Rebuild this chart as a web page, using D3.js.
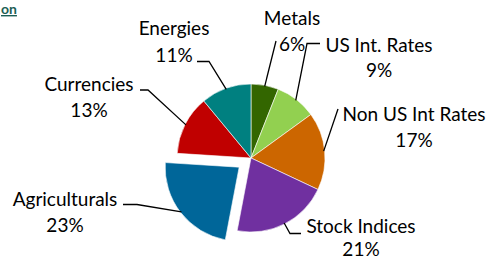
<!DOCTYPE html>
<html><head><meta charset="utf-8">
<script src="https://cdn.jsdelivr.net/npm/d3@7"></script>
<style>
html,body{margin:0;padding:0;background:#fff;}
svg{display:block;}
</style></head>
<body>
<script>
// ---- data ----
const categories = ["Metals","US Int. Rates","Non US Int Rates","Stock Indices","Agriculturals","Currencies","Energies"];
const values = [6, 9, 17, 21, 23, 13, 11];
const percentLabels = ["6%","9%","17%","21%","23%","13%","11%"];
const colors = ["#336600","#92D050","#CC6600","#7030A0","#006699","#C00000","#008080"];
const explodedIndex = 4;

// ---- layout ----
const W = 487, H = 261;
const cx = 251, cy = 158, R = 74, explode = 15;
const labelX = [292, 379, 414, 361, 65, 89, 174];
const labelY = [25, 51.5, 121, 233, 206, 91, 35];
const lineGap = [25.8, 25.8, 25.8, 23, 25.8, 25.8, 26.5];
const leaderStart = [[276,41],[320,43.5],[338,109],[301,233.5],[123,204.5],[140,90],[197,61.5]];
const leaderElbow = [[276,41],[307,43.5],[338,109],[290,233.5],[137,204.5],[148,90],[209,61.5]];

const svg = d3.select("body").append("svg").attr("width", W).attr("height", H);

// title fragment
svg.append("text").attr("x", 1).attr("y", 14)
  .attr("font-family", "Lato, 'Open Sans', sans-serif").attr("font-weight", "bold")
  .attr("font-size", 14).attr("fill", "#1B5E55").attr("text-decoration", "underline")
  .text("on");

const pie = d3.pie().sort(null).value(d => d);
const arcs = pie(values);
const arc = d3.arc().innerRadius(0).outerRadius(R);

const g = svg.append("g").attr("transform", `translate(${cx},${cy})`);

function offsetOf(i) {
  if (i !== explodedIndex) return [0, 0];
  const a = (arcs[i].startAngle + arcs[i].endAngle) / 2;
  return [explode * Math.sin(a), -explode * Math.cos(a)];
}

g.selectAll("path.slice").data(arcs).enter().append("path")
  .attr("class", "slice")
  .attr("d", arc)
  .attr("fill", (d, i) => colors[i])
  .attr("stroke", "#fff").attr("stroke-width", 0.6)
  .attr("transform", (d, i) => { const o = offsetOf(i); return `translate(${o[0]},${o[1]})`; });

// leader lines
const line = d3.line();
arcs.forEach((d, i) => {
  const a = (d.startAngle + d.endAngle) / 2;
  const o = offsetOf(i);
  const p = [cx + o[0] + (R - 1) * Math.sin(a), cy + o[1] - (R - 1) * Math.cos(a)];
  svg.append("path")
    .attr("d", line([leaderStart[i], leaderElbow[i], p]))
    .attr("fill", "none").attr("stroke", "#000").attr("stroke-width", 1.3);
});

// labels
const lab = svg.append("g")
  .attr("font-family", "Lato, 'Open Sans', sans-serif")
  .attr("font-size", 19).attr("fill", "#000").attr("text-anchor", "middle");
categories.forEach((c, i) => {
  const t = lab.append("text").attr("x", labelX[i]).attr("y", labelY[i]);
  t.append("tspan").attr("x", labelX[i]).text(c);
  t.append("tspan").attr("x", labelX[i]).attr("dy", lineGap[i]).text(percentLabels[i]);
});
</script>
</body></html>
